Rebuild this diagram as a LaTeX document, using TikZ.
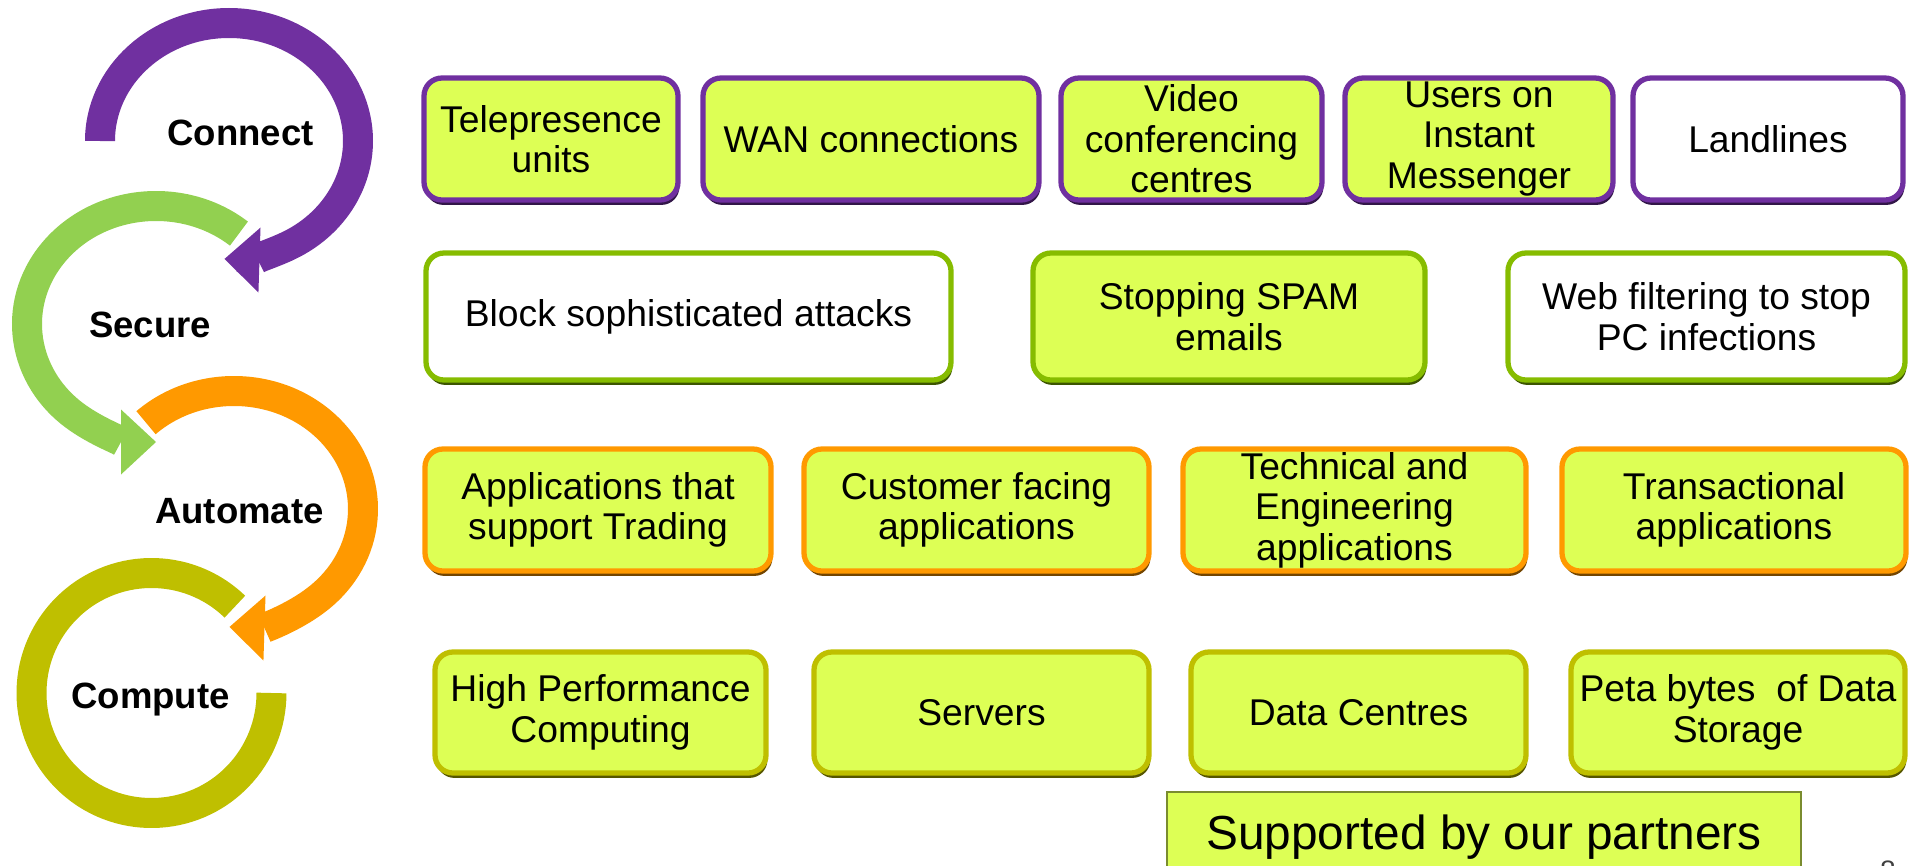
\documentclass[tikz,border=0pt]{standalone}
\usepackage{fontspec}
\setmainfont{Liberation Sans}
\usepackage{xcolor}
\usepackage{tikz}
\usetikzlibrary{arrows.meta,positioning,calc,shadows}

\definecolor{ConPurple}{HTML}{7030A0}
\definecolor{SecGreen}{HTML}{92D050}
\definecolor{SecEdge}{HTML}{86BC00}
\definecolor{AutoOrange}{HTML}{FF9900}
\definecolor{CompOlive}{HTML}{BFBF00}
\definecolor{TileLime}{HTML}{DDFF55}
\newcommand{\tilefont}{\fontsize{10.6}{11.5}\selectfont}
\newcommand{\stagefont}{\fontsize{10.4}{12}\selectfont\bfseries}
\newcommand{\partnerfont}{\fontsize{13.6}{15}\selectfont}

\begin{document}
\begin{tikzpicture}[
  ring/.style={line width=3mm},
  head/.style={-{Triangle[width=6.5mm,length=3.5mm,line width=0pt]}},
  stage/.style={font=\stagefont, anchor=base, inner sep=0pt},
  tile/.style={draw=#1, line width=1.5pt, rounded corners=1.8mm, fill=TileLime,
    align=center, inner sep=0pt, font=\tilefont,
    drop shadow={shadow xshift=0.4pt, shadow yshift=-1.4pt, fill=#1!45!black, opacity=1}},
  blank/.style={tile=#1, fill=white},
  partner/.style={draw=TileLime!55!black, line width=0.6pt, fill=TileLime,
    minimum width=6.34cm, minimum height=0.9cm, inner sep=0pt, font=\partnerfont}]
  \useasboundingbox (0,0) rectangle (19.1,8.65);

  % the four rings
  \coordinate (ConC) at (2.29,7.24);
  \coordinate (SecC) at (1.56,5.41);
  \coordinate (AutC) at (2.34,3.56);
  \coordinate (ComC) at (1.515,1.72);
  \draw[ring, CompOlive] ($(ComC)+(46:1.20)$) arc[start angle=46, end angle=360, radius=1.20];
  \draw[ring, head, AutoOrange] ($(AutC)+(133:1.29 and 1.18)$) arc[start angle=133, end angle=-92, x radius=1.29, y radius=1.18];
  \draw[ring, head, SecGreen] ($(SecC)+(50:1.29 and 1.18)$) arc[start angle=50, end angle=270, x radius=1.29, y radius=1.18];
  \draw[ring, head, ConPurple] ($(ConC)+(180:1.29 and 1.18)$) arc[start angle=180, end angle=-92, x radius=1.29, y radius=1.18];

  \node[stage] (Connect) at (2.405,7.20) {Connect};
  \node[stage] (Secure) at (1.50,5.28) {Secure};
  \node[stage] (Automate) at (2.395,3.42) {Automate};
  \node[stage] (Compute) at (1.505,1.57) {Compute};

  % connect
  \node[tile=ConPurple, minimum width=2.54cm, minimum height=1.22cm] (Tele) at (5.51,7.26) {Telepresence\\units};
  \node[tile=ConPurple, minimum width=3.36cm, minimum height=1.22cm] (WAN) at (8.71,7.26) {WAN connections};
  \node[tile=ConPurple, minimum width=2.61cm, minimum height=1.22cm] (Video) at (11.915,7.26) {Video\\conferencing\\centres};
  \node[tile=ConPurple, minimum width=2.68cm, minimum height=1.22cm] (IM) at (14.79,7.26) {Users on\\Instant\\Messenger};
  \node[blank=ConPurple, minimum width=2.70cm, minimum height=1.22cm] (Land) at (17.68,7.26) {Landlines};

  % secure
  \node[blank=SecEdge, minimum width=5.25cm, minimum height=1.27cm] (Block) at (6.885,5.485) {Block sophisticated attacks};
  \node[tile=SecEdge, minimum width=3.92cm, minimum height=1.27cm] (Spam) at (12.29,5.485) {Stopping SPAM\\emails};
  \node[blank=SecEdge, minimum width=3.97cm, minimum height=1.27cm] (Web) at (17.065,5.485) {Web filtering to stop\\PC infections};

  % automate
  \node[tile=AutoOrange, minimum width=3.46cm, minimum height=1.22cm] (Trade) at (5.98,3.55) {Applications that\\support Trading};
  \node[tile=AutoOrange, minimum width=3.45cm, minimum height=1.22cm] (Cust) at (9.765,3.55) {Customer facing\\applications};
  \node[tile=AutoOrange, minimum width=3.43cm, minimum height=1.22cm] (Tech) at (13.545,3.55) {Technical and\\Engineering\\applications};
  \node[tile=AutoOrange, minimum width=3.44cm, minimum height=1.22cm] (Trans) at (17.34,3.55) {Transactional\\applications};

  % compute
  \node[tile=CompOlive, minimum width=3.31cm, minimum height=1.21cm] (HPC) at (6.005,1.525) {High Performance\\Computing};
  \node[tile=CompOlive, minimum width=3.35cm, minimum height=1.21cm] (Serv) at (9.815,1.525) {Servers};
  \node[tile=CompOlive, minimum width=3.35cm, minimum height=1.21cm] (DC) at (13.585,1.525) {Data Centres};
  \node[tile=CompOlive, minimum width=3.34cm, minimum height=1.21cm] (Store) at (17.38,1.525) {Peta bytes\ \ of Data\\Storage};

  \node[partner, anchor=north] (Partners) at (14.84,0.74) {Supported by our partners};
  \node[anchor=north, inner sep=0pt, font=\fontsize{8}{9}\selectfont, text=black!75] (Page) at (18.88,0.05) {8};
\end{tikzpicture}
\end{document}
